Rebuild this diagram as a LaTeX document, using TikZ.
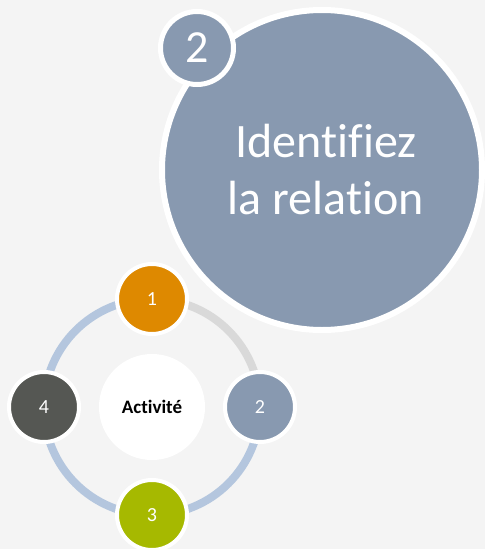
\documentclass[tikz,border=0pt]{standalone}
\usepackage{fontspec}
\setmainfont{Carlito}[Ligatures=NoCommon]
\usetikzlibrary{backgrounds}
\definecolor{BG}{RGB}{244,244,244}
\definecolor{SL}{RGB}{136,153,176}
\definecolor{OR}{RGB}{222,137,0}
\definecolor{GR}{RGB}{166,185,0}
\definecolor{DK}{RGB}{85,87,83}
\definecolor{RB}{RGB}{180,198,222}
\definecolor{RG}{RGB}{217,217,217}

\begin{document}
\begin{tikzpicture}[x=1pt, y=-1pt,
    bubble/.style={circle, draw=white, text=white, inner sep=0pt},
    stepdot/.style={bubble, line width=4pt, minimum size=70pt, font=\fontsize{20}{20}\selectfont},
    ring/.style={line width=8pt}]
      \useasboundingbox (0,0) rectangle (485,549);
      % big circle and its number
      \node[bubble, fill=SL, line width=6pt, minimum size=320pt, align=center,
            font=\fontsize{48}{57}\selectfont] (main) at (322,170) {\hspace{8pt}Identifiez\\\hspace{8pt}la relation};
      \node[bubble, fill=SL, line width=5pt, minimum size=73pt,
            font=\fontsize{46}{46}\selectfont] (num) at (197,48) {2};
      % cycle
      \node[circle, fill=white, minimum size=106pt, inner sep=0pt,
            font=\fontsize{19}{19}\selectfont\bfseries] (act) at (152,407) {Activité};
      \node[stepdot, fill=OR] (s1) at (152,299) {1};
      \node[stepdot, fill=SL] (s2) at (260,407) {2};
      \node[stepdot, fill=GR] (s3) at (152,515) {3};
      \node[stepdot, fill=DK] (s4) at (44,407) {4};
      \begin{scope}[on background layer]
        \fill[BG] (0,0) rectangle (485,549);
        \draw[ring, RG] (s1.center) to[out=0, in=90] (s2.center);
        \draw[ring, RB] (s2.center) to[out=-90, in=0] (s3.center);
        \draw[ring, RB] (s3.center) to[out=180, in=-90] (s4.center);
        \draw[ring, RB] (s4.center) to[out=90, in=180] (s1.center);
      \end{scope}
    \end{tikzpicture}
\end{document}
